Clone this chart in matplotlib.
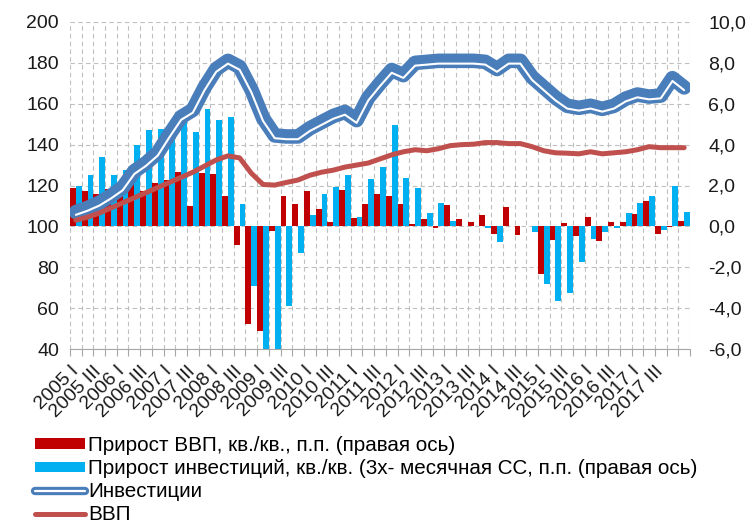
import matplotlib
matplotlib.use("Agg")
import matplotlib.pyplot as plt
import matplotlib.patheffects as pe
from matplotlib.lines import Line2D
from matplotlib.patches import Patch
from matplotlib.ticker import FuncFormatter, MultipleLocator, FixedLocator
import numpy as np

# quarters 2005 I .. 2018 I
years = list(range(2005, 2019))
roman = ["I", "II", "III", "IV"]
quarters = [f"{y} {q}" for y in years for q in roman][:53]

# q/q growth, p.p. (right axis)
gdp_qoq = [1.9, 1.75, 1.6, 1.85, 1.8, 2.2, 1.75, 2.1, 2.27, 2.65,
           1.0, 2.6, 2.55, 1.5, -0.9, -4.8, -5.1, -0.25, 1.5, 1.1,
           1.75, 0.85, 0.2, 1.8, 0.43, 1.1, 1.6, 1.5, 1.1, 0.13,
           0.36, -0.1, 1.03, 0.36, 0.2, 0.56, -0.39, 0.96, -0.4, 0.03,
           -2.35, -0.65, 0.18, -0.49, 0.46, -0.73, 0.23, 0.23, 0.59, 1.26,
           -0.36, -0.05, 0.28]
inv_qoq = [2.0, 2.5, 3.4, 2.5, 2.76, 4.0, 4.72, 4.77, 4.23, 5.29,
           4.63, 5.73, 5.2, 5.37, 1.1, -2.92, -6.5, -6.5, -3.88, -1.28,
           0.56, 1.57, 1.94, 2.53, 0.47, 2.3, 2.89, 4.95, 2.35, 1.86,
           0.67, 1.16, 0.24, 0.03, 0.02, -0.1, -0.77, 0.03, 0.03, -0.28,
           -2.84, -3.67, -3.26, -1.75, -0.6, -0.29, -0.08, 0.65, 1.14, 1.5,
           -0.16, 1.97, 0.7]

# index levels (left axis)
investment = [107, 109, 111.5, 115, 119, 127, 131, 136, 145, 153.5,
              157, 168, 177, 181, 178, 167, 153, 144.5, 144, 144,
              148, 151, 154, 156, 152, 163, 170, 176.5, 174, 180,
              180.5, 181, 181, 181, 181, 180.5, 177, 181, 181, 173,
              168, 163, 159, 158, 159, 157.5, 159, 162.5, 164.5, 163.5,
              164, 172.5, 168]
gdp = [103, 104.5, 106.5, 109, 111.5, 114, 116.5, 119, 121.5, 124,
       126.5, 129.5, 132.5, 134.5, 133.5, 126, 120.5, 120.2, 121.5, 122.7,
       125, 126.5, 127.5, 129, 130, 131, 133, 135, 136.5, 137.5,
       137, 138, 139.5, 140, 140.2, 141, 141, 140.5, 140.5, 139,
       137, 136, 135.8, 135.5, 136.5, 135.5, 136, 136.5, 137.5, 139,
       138.5, 138.5, 138.5]

labels = ["Прирост ВВП, кв./кв., п.п. (правая ось)",
          "Прирост инвестиций, кв./кв. (3х- месячная СС, п.п. (правая ось)",
          "Инвестиции",
          "ВВП"]

red_bar = "#C00000"
blue_bar = "#00B0F0"
inv_col = "#4A7EBB"
gdp_col = "#C0504D"
grid_col = "#BFBFBF"

plt.rcParams['font.family'] = ['Liberation Sans', 'DejaVu Sans']

fig = plt.figure(figsize=(7.49, 5.23), dpi=100)
ax = fig.add_axes([70/749, 1 - 349/523, 620/749, 327/523])
x = np.arange(len(quarters))
w = 0.5
ax.bar(x - w/2, gdp_qoq, w, color=red_bar, zorder=2)
ax.bar(x + w/2, inv_qoq, w, color=blue_bar, zorder=2)
ax.set_ylim(-6, 10)
ax.set_xlim(-0.5, len(x) - 0.5)

# lines on the left-hand index axis, drawn above the bars
axl = ax.twinx()
ax.yaxis.tick_right()
axl.yaxis.tick_left()
# thick-thin double line: white stripe pushed towards the lower edge
dbl = [pe.Normal(), pe.Stroke(linewidth=1.5, foreground='white', offset=(0, -2.0))]
axl.plot(x, investment, color=inv_col, lw=10.5, solid_capstyle='round',
         solid_joinstyle='round', path_effects=dbl)
axl.plot(x, gdp, color=gdp_col, lw=3.6, solid_capstyle='round', solid_joinstyle='round')
axl.set_ylim(40, 200)
axl.yaxis.set_major_locator(MultipleLocator(20))

comma = FuncFormatter(lambda v, p: f"{v:.1f}".replace('.', ','))
ax.yaxis.set_major_locator(MultipleLocator(2))
ax.yaxis.set_major_formatter(comma)

# x axis: labels every second quarter (up to 2017 III), ticks on category borders
ax.xaxis.set_major_locator(FixedLocator(x[:52:2]))
ax.set_xticklabels(quarters[:52:2], rotation=45, ha='right', va='center',
                   rotation_mode='anchor', fontsize=14, color='#1a1a1a')
ax.xaxis.set_minor_locator(FixedLocator(np.arange(-0.5, len(x), 1)))
ax.tick_params(axis='x', which='major', length=0, pad=14)
ax.tick_params(axis='x', which='minor', length=5, color='#A6A6A6', width=0.8)
ax.tick_params(axis='y', length=0, labelsize=14, pad=13, labelcolor='#1a1a1a')
axl.tick_params(axis='y', length=0, labelsize=14, pad=8, labelcolor='#1a1a1a')

ax.set_axisbelow(True)
ax.grid(axis='y', which='major', ls=(0, (4, 3)), color=grid_col, lw=0.8)
ax.grid(axis='x', which='minor', ls=(0, (4, 3)), color=grid_col, lw=0.8)

for a in (ax, axl):
    for s in ('left', 'right', 'top'):
        a.spines[s].set_visible(False)
axl.spines['bottom'].set_visible(False)
ax.spines['bottom'].set_color('#A6A6A6')

# legend under the chart
inv_handle = Line2D([], [], color=inv_col, lw=6, solid_capstyle='round',
                    path_effects=[pe.Normal(), pe.Stroke(linewidth=1.6, foreground='white')])
handles = [Patch(facecolor=red_bar), Patch(facecolor=blue_bar), inv_handle,
           Line2D([], [], color=gdp_col, lw=3.6, solid_capstyle='round')]
fig.legend(handles, labels, loc='upper left', bbox_to_anchor=(35/749, 1 - 436/523),
           frameon=False, fontsize=14.9, handlelength=2.4, handleheight=0.4,
           labelspacing=0.2, handletextpad=0.15, borderpad=0, borderaxespad=0)

fig.savefig("out.png", dpi=100)
